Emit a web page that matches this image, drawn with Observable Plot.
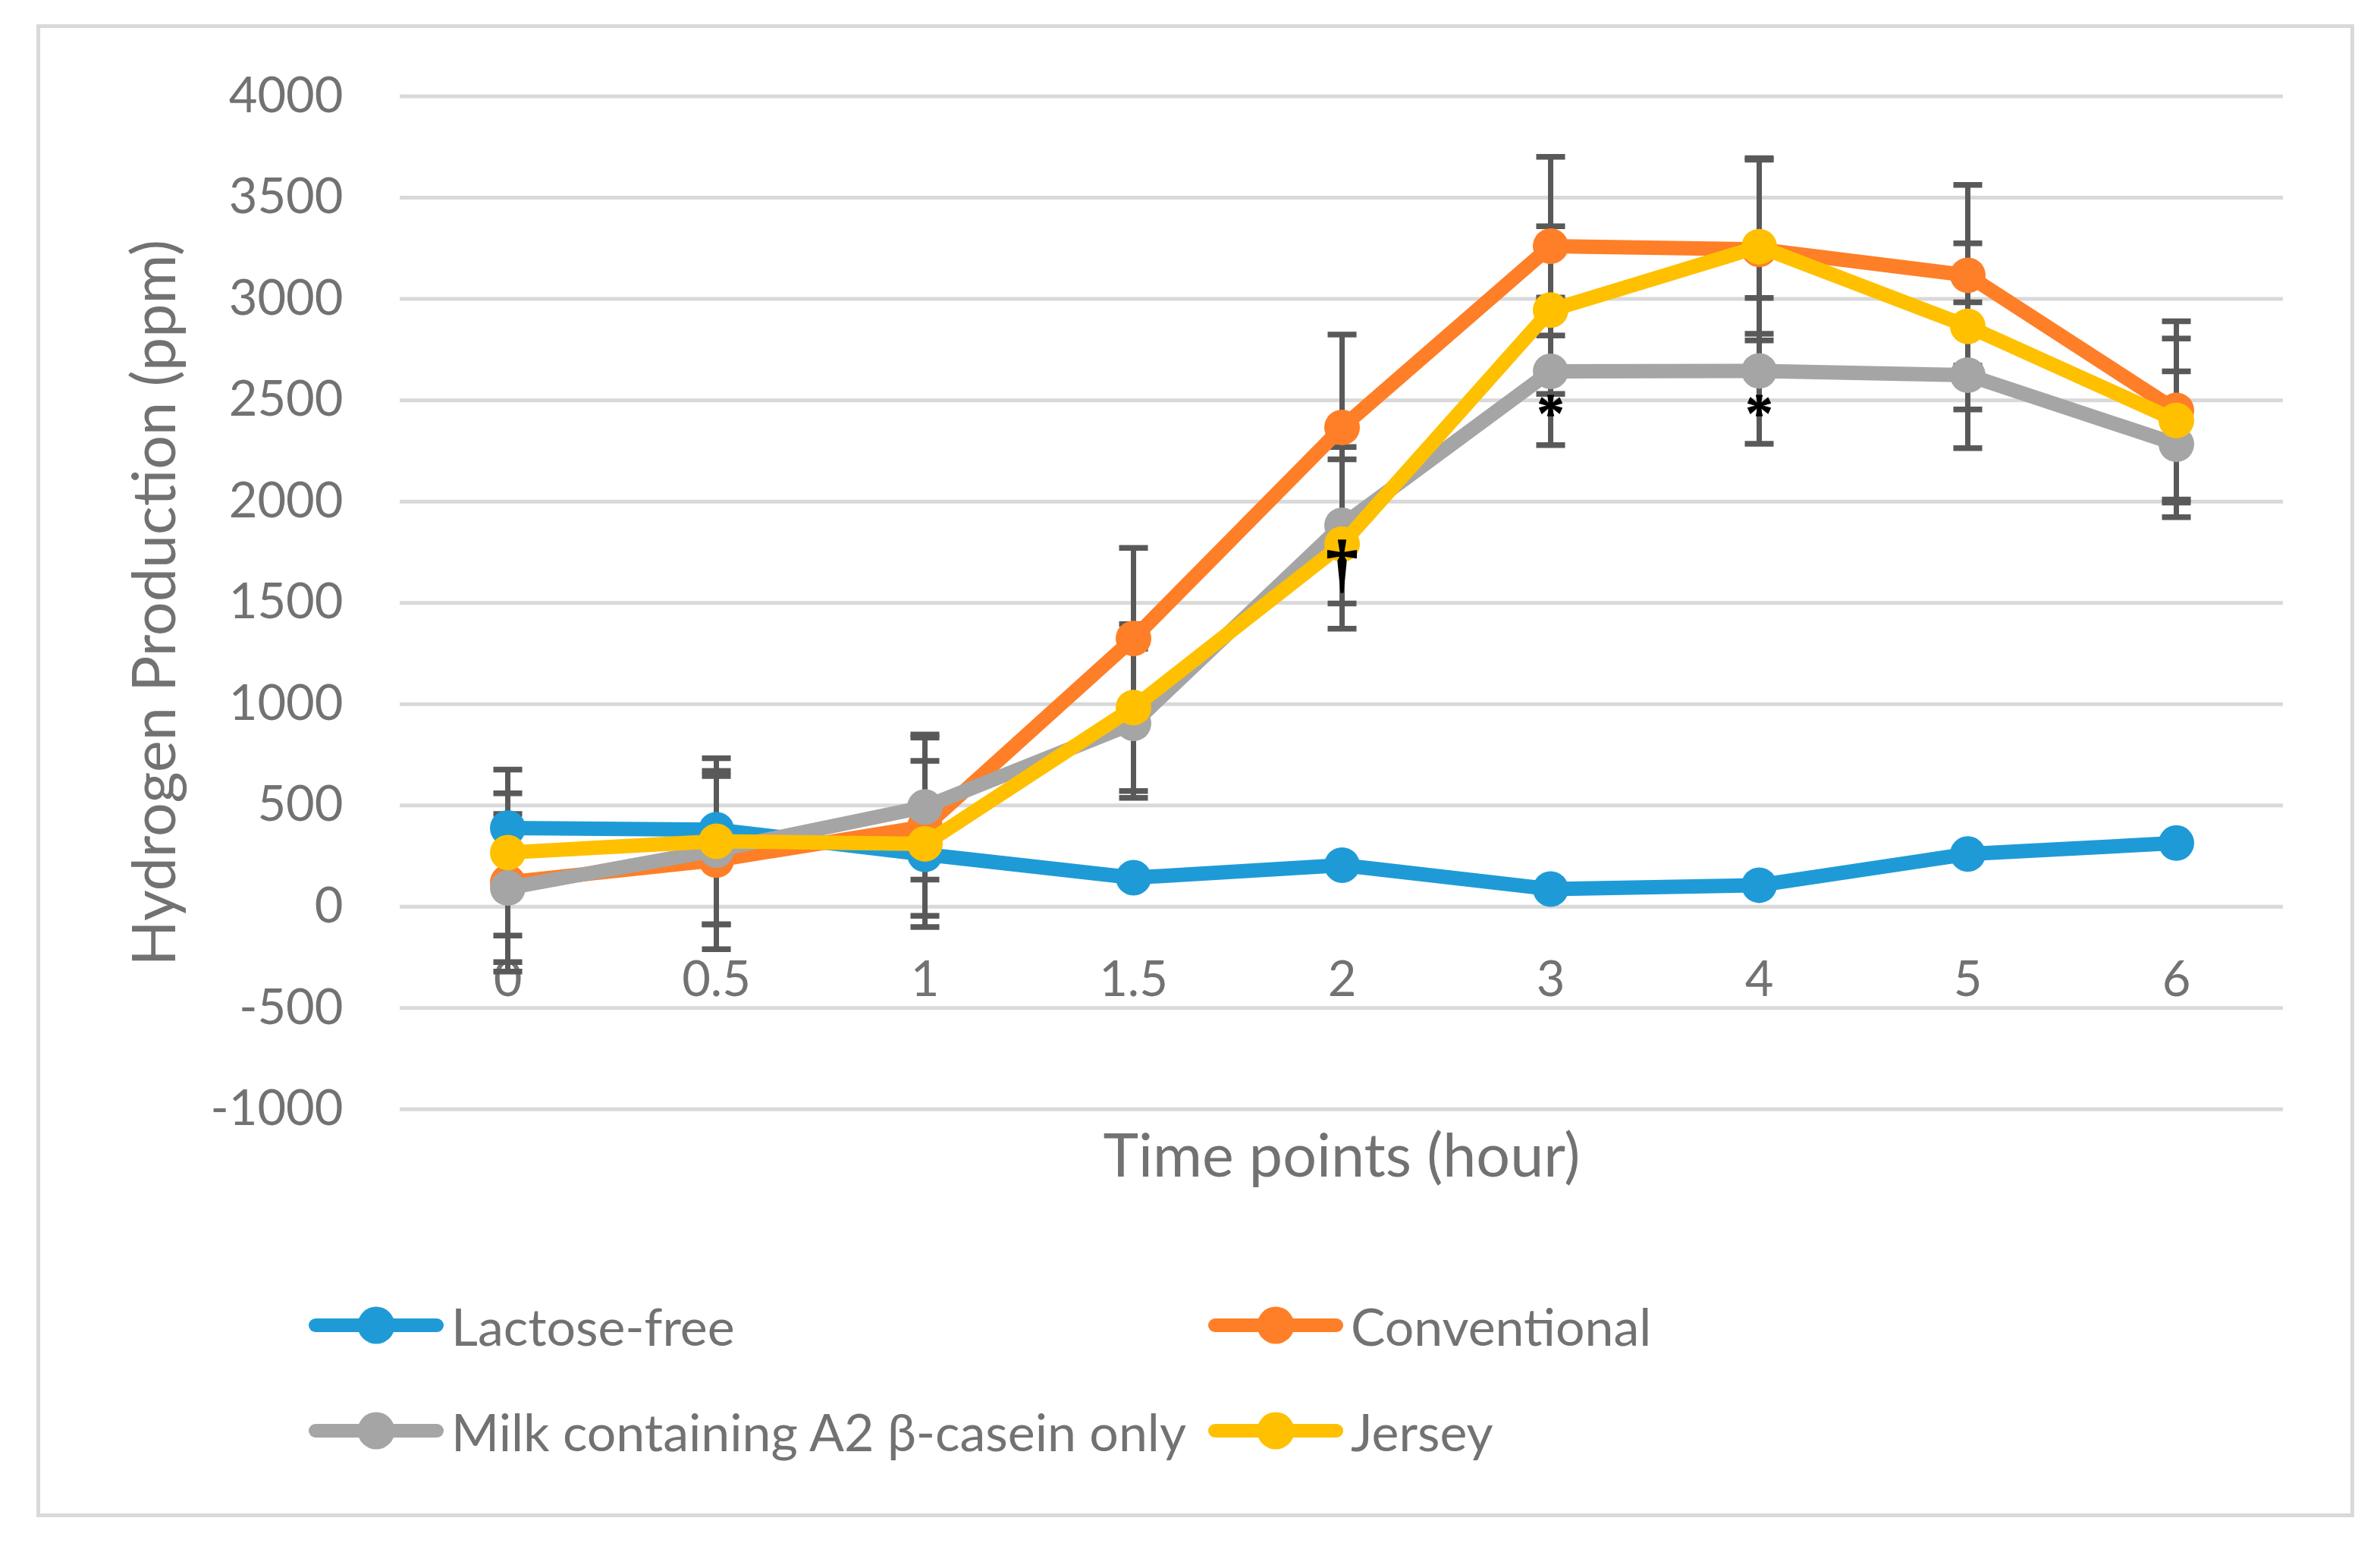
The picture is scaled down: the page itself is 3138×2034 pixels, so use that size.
<!DOCTYPE html>
<html>
<head>
<meta charset="utf-8">
<script src="https://cdn.jsdelivr.net/npm/d3@7"></script>
<script src="https://cdn.jsdelivr.net/npm/@observablehq/plot@0.6"></script>
<style>
  html, body { margin: 0; padding: 0; background: #ffffff; }
  #page { position: relative; width: 3138px; height: 2034px; overflow: hidden; font-family: Lato, "Open Sans", sans-serif; }
  #frame { position: absolute; left: 48px; top: 32px; width: 3056px; height: 1968px; box-sizing: border-box; border: 5px solid #d9d9d9; }
  #chart { position: absolute; left: 0; top: 0; }
  .legend-item { position: absolute; display: flex; align-items: center; height: 60px; color: #727272; font-size: 68px; white-space: nowrap; }
  .legend-item svg { display: block; }
  .legend-item span { margin-left: 10px; }
</style>
</head>
<body>
<div id="page">
  <div id="frame"></div>
  <div id="chart"></div>
  <div id="legend"></div>
</div>
<script>
// ---------------- data ----------------
const times = ["0", "0.5", "1", "1.5", "2", "3", "4", "5", "6"];
const seriesNames = ["Lactose-free", "Conventional", "Milk containing A2 β-casein only", "Jersey"];
const seriesColors = ["#1e9bd7", "#fe7f27", "#a5a5a5", "#ffc000"];

const lactoseFree  = [388, 380, 258, 143, 205, 87, 106, 260, 314];
const conventional = [120, 230, 395, 1324, 2366, 3261, 3245, 3117, 2450];
const a2Only       = [92, 279, 492, 905, 1883, 2643, 2645, 2624, 2283];
const jersey       = [267, 323, 310, 983, 1790, 2945, 3258, 2865, 2400];

const conventionalSD = [440, 440, 440, 447, 458, 441, 450, 446, 440];
const a2OnlySD       = [366, 366, 358, 368, 386, 364, 360, 360, 360];
const jerseySD       = [410, 410, 410, 412, 418, 414, 430, 410, 405];

const yTicks = [-1000, -500, 0, 500, 1000, 1500, 2000, 2500, 3000, 3500, 4000];
const xAxisCrossing = 0;

const annotationText = ["†", "*", "*"];
const annotationTime = ["2", "3", "4"];
const annotationValue = [1680, 2500, 2500];

const yTitle = "Hydrogen Production (ppm)";
const xTitle = "Time points (hour)";

// ---------------- tables ----------------
const seriesValues = [lactoseFree, conventional, a2Only, jersey];
const seriesSD = [null, conventionalSD, a2OnlySD, jerseySD];

const rows = [];
seriesNames.forEach((name, i) => {
  times.forEach((t, j) => {
    rows.push({series: name, color: seriesColors[i], time: t, value: seriesValues[i][j],
               sd: seriesSD[i] ? seriesSD[i][j] : null});
  });
});
const barRows = rows.filter(d => d.sd != null);
const capRows = barRows.flatMap(d => [{time: d.time, y: d.value - d.sd}, {time: d.time, y: d.value + d.sd}]);
const annotations = annotationText.map((t, i) => ({text: t, time: annotationTime[i], value: annotationValue[i]}));
const daggers = annotations.filter(d => d.text === "†");
const asterisks = annotations.filter(d => d.text === "*");

const capSymbol = {
  draw(ctx) {
    ctx.moveTo(-19, -3.75); ctx.lineTo(19, -3.75); ctx.lineTo(19, 3.75); ctx.lineTo(-19, 3.75); ctx.closePath();
  }
};

const textColor = "#727272";
const serif = "'Liberation Serif', 'DejaVu Serif', serif";

const seriesMarks = seriesNames.flatMap((name, i) => {
  const data = rows.filter(d => d.series === name);
  return [
    Plot.line(data, {x: "time", y: "value", stroke: seriesColors[i], strokeWidth: 19,
                     strokeLinejoin: "round", strokeLinecap: "round"}),
    Plot.dot(data, {x: "time", y: "value", r: 23.5, fill: seriesColors[i]})
  ];
});

const chart = Plot.plot({
  width: 3138,
  height: 1620,
  marginLeft: 527,
  marginRight: 128,
  marginTop: 126.6,
  marginBottom: 158.3,
  x: {type: "point", domain: times, padding: 0.5, axis: null},
  y: {domain: [-1000, 4000], axis: null},
  style: {fontFamily: "Lato, 'Open Sans', sans-serif", background: "transparent", overflow: "visible"},
  marks: [
    Plot.gridY(yTicks, {stroke: "#d9d9d9", strokeOpacity: 1, strokeWidth: 5}),
    Plot.axisY(yTicks, {tickSize: 0, tickPadding: 75, fontSize: 65, color: textColor,
                        tickFormat: d => String(d), label: null}),
    Plot.text(times, {x: d => d, y: () => xAxisCrossing, text: d => d, dy: 97,
                      fontSize: 65, fill: textColor}),
    Plot.ruleX(barRows, {x: "time", y1: d => d.value - d.sd, y2: d => d.value + d.sd,
                         stroke: "#595959", strokeWidth: 7}),
    Plot.dot(capRows, {x: "time", y: "y", symbol: capSymbol, r: 5, fill: "#595959"}),
    ...seriesMarks,
    Plot.text(daggers, {x: "time", y: "value", text: "text", fontFamily: serif, fontWeight: "bold",
                        fontSize: 84, dy: -2, fill: "#000000", stroke: "#000000", strokeWidth: 1.5}),
    Plot.text(asterisks, {x: "time", y: "value", text: "text", fontFamily: serif, fontWeight: "bold",
                          fontSize: 72, dy: 17, fill: "#000000", stroke: "#000000", strokeWidth: 1}),
    Plot.text([yTitle], {text: d => d, frameAnchor: "left", textAnchor: "middle", lineAnchor: "middle",
                         dx: -322, rotate: -90, fontSize: 79, fill: textColor}),
    Plot.text([xTitle], {text: d => d, frameAnchor: "bottom", textAnchor: "middle", lineAnchor: "middle",
                         dy: 64, fontSize: 79, fill: textColor})
  ]
});
document.getElementById("chart").appendChild(chart);

// ---------------- legend ----------------
const legendRowsY = [1747, 1886];
const legendColsX = [407, 1593];
const legend = document.getElementById("legend");
seriesNames.forEach((name, i) => {
  const row = Math.floor(i / 2), col = i % 2;
  const item = document.createElement("div");
  item.className = "legend-item";
  item.style.left = legendColsX[col] + "px";
  item.style.top = (legendRowsY[row] - 30) + "px";
  const svg = d3.create("svg").attr("width", 178).attr("height", 60);
  svg.append("line").attr("x1", 9).attr("x2", 169).attr("y1", 30).attr("y2", 30)
     .attr("stroke", seriesColors[i]).attr("stroke-width", 18).attr("stroke-linecap", "round");
  svg.append("circle").attr("cx", 89).attr("cy", 30).attr("r", 24.5).attr("fill", seriesColors[i]);
  item.appendChild(svg.node());
  const span = document.createElement("span");
  span.textContent = name;
  item.appendChild(span);
  legend.appendChild(item);
});
</script>
</body>
</html>
